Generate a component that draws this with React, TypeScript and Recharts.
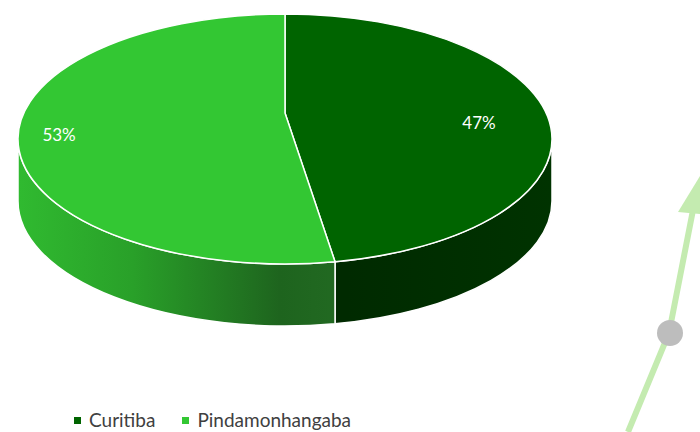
import React from 'react';
import { PieChart, Pie, Cell, Legend } from 'recharts';

const cities = ['Curitiba', 'Pindamonhangaba'];
const shares = [47, 53];
const topColors = ['#006400', '#33C733'];

const chartData = cities.map((name, i) => ({ name, value: shares[i] }));

// look of the tilted disc
const TILT = 0.468;
const DEPTH = 62;
const APEX_SHIFT = 26;
const sideFills = ['url(#sideDark)', 'url(#sideLight)'];

const pt = (cx: number, cy: number, rx: number, ry: number, deg: number, dy = 0) => {
  const a = (deg * Math.PI) / 180;
  return [cx + rx * Math.cos(a), cy - ry * Math.sin(a) + dy];
};

const DiscSlice = (props: any) => {
  const { cx, cy, outerRadius, startAngle, endAngle, index } = props;
  const rx = outerRadius;
  const ry = outerRadius * TILT;
  const [sx, sy] = pt(cx, cy, rx, ry, startAngle);
  const [ex, ey] = pt(cx, cy, rx, ry, endAngle);
  const large = Math.abs(startAngle - endAngle) > 180 ? 1 : 0;
  const top = `M${cx},${cy - APEX_SHIFT} L${sx},${sy} A${rx},${ry} 0 ${large} 1 ${ex},${ey} Z`;

  const hi = Math.min(Math.max(startAngle, endAngle), 0);
  const lo = Math.max(Math.min(startAngle, endAngle), -180);
  let wall = null;
  if (lo < hi) {
    const [hx, hy] = pt(cx, cy, rx, ry, hi);
    const [lx, ly] = pt(cx, cy, rx, ry, lo);
    const d = `M${hx},${hy} A${rx},${ry} 0 0 1 ${lx},${ly} L${lx},${ly + DEPTH} A${rx},${ry} 0 0 0 ${hx},${hy + DEPTH} Z`;
    wall = <path d={d} fill={sideFills[index % 2]} stroke="#ffffff" strokeWidth={1.5} />;
  }
  return (
    <g>
      {wall}
      <path d={top} fill={topColors[index % 2]} stroke="#ffffff" strokeWidth={1.5} />
    </g>
  );
};

const labelShift = [-8, -14];

const renderLabel = (p: any) => {
  const { cx, cy, outerRadius, midAngle, value, index } = p;
  const k = index === 0 ? 0.73 : 0.85;
  const [x, y] = pt(cx, cy, outerRadius * k, outerRadius * TILT * k, midAngle, labelShift[index % 2]);
  return (
    <text x={x} y={y} fill="#ffffff" fontSize={17} fontFamily="Lato, 'Open Sans', sans-serif" textAnchor="middle" dominantBaseline="central">
      {`${value}%`}
    </text>
  );
};

const LegendBox = ({ payload }: any) => (
  <div style={{ display: 'flex', fontFamily: "Lato, 'Open Sans', sans-serif", fontSize: 19, lineHeight: '20px', color: '#404040' }}>
    {(payload || []).map((e: any, i: number) => (
      <div key={i} style={{ display: 'flex', alignItems: 'center', marginRight: 27 }}>
        <span style={{ width: 7, height: 7, background: e.color, display: 'inline-block', marginRight: 8 }} />
        <span>{e.value}</span>
      </div>
    ))}
  </div>
);

export default function App() {
  return (
    <div style={{ position: 'absolute', left: 0, top: 0, width: 700, height: 432, background: '#ffffff', overflow: 'hidden' }}>
      <PieChart width={700} height={432} margin={{ top: 0, right: 0, bottom: 0, left: 0 }}>
        <defs>
          <linearGradient id="sideLight" gradientUnits="userSpaceOnUse" x1={18} y1={0} x2={346} y2={0}>
            <stop offset="0%" stopColor="#30BA30" />
            <stop offset="35%" stopColor="#29A029" />
            <stop offset="80%" stopColor="#1E641E" />
            <stop offset="100%" stopColor="#226A22" />
          </linearGradient>
          <linearGradient id="sideDark" gradientUnits="userSpaceOnUse" x1={346} y1={0} x2={552} y2={0}>
            <stop offset="0%" stopColor="#002A00" />
            <stop offset="100%" stopColor="#003300" />
          </linearGradient>
        </defs>
        <Pie
          data={chartData}
          dataKey="value"
          nameKey="name"
          cx={285}
          cy={139}
          outerRadius={267}
          startAngle={90}
          endAngle={-270}
          stroke="none"
          shape={DiscSlice}
          label={renderLabel}
          labelLine={false}
          isAnimationActive={false}
        >
          {chartData.map((d, i) => (
            <Cell key={d.name} fill={topColors[i]} />
          ))}
        </Pie>
        <Legend content={LegendBox} wrapperStyle={{ position: 'absolute', left: 74, top: 410, width: 'auto' }} />
      </PieChart>
      <svg width={700} height={432} style={{ position: 'absolute', left: 0, top: 0, pointerEvents: 'none' }}>
        <polyline points="628,432 669,333 693,210 696,190" fill="none" stroke="#C4EBB0" strokeWidth={6} />
        <polygon points="678,212 700,176 700,214" fill="#C4EBB0" />
        <circle cx={670} cy={333} r={13} fill="#BDBDBD" />
      </svg>
    </div>
  );
}
